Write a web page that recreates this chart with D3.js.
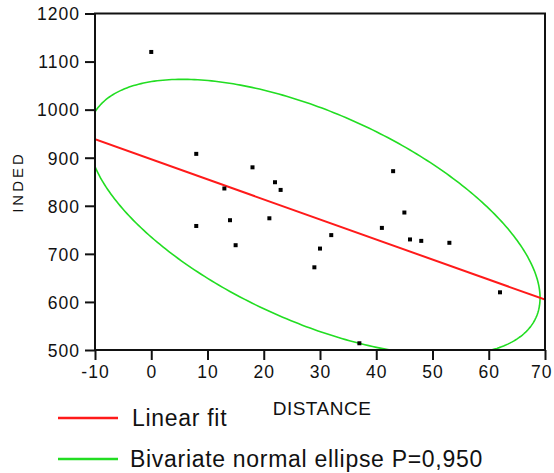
<!DOCTYPE html>
<html>
<head>
<meta charset="utf-8">
<script src="https://cdn.jsdelivr.net/npm/d3@7"></script>
<style>
  html, body { margin: 0; padding: 0; background: #fff; }
  svg { display: block; font-family: "Liberation Sans", Arial, sans-serif; }
  .tick-label { font-size: 17.5px; letter-spacing: 1px; fill: #111; }
  .legend-text { font-size: 23px; letter-spacing: 0.7px; fill: #111; }
</style>
</head>
<body>
<div id="chart"></div>
<script>
// values
const distance = [0, 8, 8, 13, 14, 15, 18, 21, 22, 23, 29, 30, 32, 37, 41, 43, 45, 46, 48, 53, 62];
const inded = [1120, 908, 758, 836, 770, 718, 880, 774, 849, 833, 672, 711, 739, 514, 754, 872, 786, 730, 727, 723, 620];
const xTicks = [-10, 0, 10, 20, 30, 40, 50, 60, 70];
const yTicks = [500, 600, 700, 800, 900, 1000, 1100, 1200];
const ellipseP = 0.95;

const width = 554,
  height = 473,
  plot = { left: 95, right: 545, top: 13.5, bottom: 350 },
  red = "#ff1a1a",
  green = "#22dd22";

const points = distance.map((d, i) => ({ x: d, y: inded[i] }));

const xScale = d3.scaleLinear().domain([-10, 70]).range([plot.left, plot.right]);
const yScale = d3.scaleLinear().domain([500, 1200]).range([plot.bottom, plot.top]);

// linear fit + bivariate normal ellipse from the points
const n = points.length;
const mx = d3.mean(points, d => d.x),
  my = d3.mean(points, d => d.y);
const sxx = d3.sum(points, d => (d.x - mx) ** 2) / n,
  syy = d3.sum(points, d => (d.y - my) ** 2) / n,
  sxy = d3.sum(points, d => (d.x - mx) * (d.y - my)) / n;
const slope = sxy / sxx,
  intercept = my - slope * mx;

const r = Math.sqrt(-2 * Math.log(1 - ellipseP));
const l11 = Math.sqrt(sxx),
  l21 = sxy / l11,
  l22 = Math.sqrt(syy - l21 * l21);
const ellipse = d3.range(0, 361).map(a => {
  const t = (a * Math.PI) / 180;
  return {
    x: mx + l11 * r * Math.cos(t),
    y: my + l21 * r * Math.cos(t) + l22 * r * Math.sin(t)
  };
});

const svg = d3
  .select("#chart")
  .append("svg")
  .attr("width", width)
  .attr("height", height);

svg.append("rect").attr("width", width).attr("height", height).attr("fill", "#fff");

svg
  .append("clipPath")
  .attr("id", "plot-clip")
  .append("rect")
  .attr("x", plot.left)
  .attr("y", plot.top)
  .attr("width", plot.right - plot.left)
  .attr("height", plot.bottom - plot.top);

const line = d3
  .line()
  .x(d => xScale(d.x))
  .y(d => yScale(d.y));

const inner = svg.append("g").attr("clip-path", "url(#plot-clip)");

inner
  .append("path")
  .datum(ellipse)
  .attr("fill", "none")
  .attr("stroke", green)
  .attr("stroke-width", 1.6)
  .attr("d", line);

inner
  .append("path")
  .datum([-10, 70].map(x => ({ x, y: intercept + slope * x })))
  .attr("fill", "none")
  .attr("stroke", red)
  .attr("stroke-width", 2)
  .attr("d", line);

inner
  .selectAll(".dot")
  .data(points)
  .enter()
  .append("rect")
  .attr("class", "dot")
  .attr("x", d => xScale(d.x) - 2)
  .attr("y", d => yScale(d.y) - 2)
  .attr("width", 4)
  .attr("height", 4)
  .attr("fill", "#000");

// frame
svg
  .append("rect")
  .attr("x", plot.left)
  .attr("y", plot.top)
  .attr("width", plot.right - plot.left)
  .attr("height", plot.bottom - plot.top)
  .attr("fill", "none")
  .attr("stroke", "#111")
  .attr("stroke-width", 2);

const xAxis = d3
  .axisBottom(xScale)
  .tickValues(xTicks)
  .tickSize(10)
  .tickPadding(6)
  .tickFormat(d => String(d));

const yAxis = d3
  .axisLeft(yScale)
  .tickValues(yTicks)
  .tickSize(10)
  .tickPadding(5)
  .tickFormat(d => String(d));

const gx = svg
  .append("g")
  .attr("transform", `translate(0, ${plot.bottom})`)
  .call(xAxis);

const gy = svg
  .append("g")
  .attr("transform", `translate(${plot.left}, 0)`)
  .call(yAxis);

[gx, gy].forEach(g => {
  g.select(".domain").remove();
  g.selectAll(".tick line").attr("stroke", "#111").attr("stroke-width", 2);
  g.selectAll(".tick text")
    .attr("class", "tick-label")
    .attr("font-size", null)
    .attr("font-family", null)
    .attr("fill", null);
});
gx.selectAll(".tick text").attr("dy", "0.71em");
gy.selectAll(".tick text").attr("dy", "0.36em");
// keep the last x label inside the picture
gx.selectAll(".tick text")
  .filter(d => d === 70)
  .attr("text-anchor", "end")
  .attr("letter-spacing", "0px")
  .attr("dx", "7px");

// axis titles
svg
  .append("text")
  .attr("transform", "translate(23, 182) rotate(-90)")
  .attr("text-anchor", "middle")
  .attr("font-size", 15)
  .attr("letter-spacing", "3px")
  .attr("fill", "#111")
  .text("INDED");

svg
  .append("text")
  .attr("x", 322)
  .attr("y", 415)
  .attr("text-anchor", "middle")
  .attr("font-size", 19)
  .attr("letter-spacing", "0.5px")
  .attr("fill", "#111")
  .text("DISTANCE");

// legend
const legendItems = [
  { label: "Linear fit", colour: red, y: 418, tx: 132 },
  { label: "Bivariate normal ellipse P=0,950", colour: green, y: 459, tx: 130 }
];

const legend = svg
  .selectAll(".legend")
  .data(legendItems)
  .enter()
  .append("g")
  .attr("class", "legend");

legend
  .append("line")
  .attr("x1", 58)
  .attr("x2", 118)
  .attr("y1", d => d.y)
  .attr("y2", d => d.y)
  .attr("stroke", d => d.colour)
  .attr("stroke-width", 2.5);

legend
  .append("text")
  .attr("class", "legend-text")
  .attr("x", d => d.tx)
  .attr("y", d => d.y + 8)
  .text(d => d.label);
</script>
</body>
</html>
